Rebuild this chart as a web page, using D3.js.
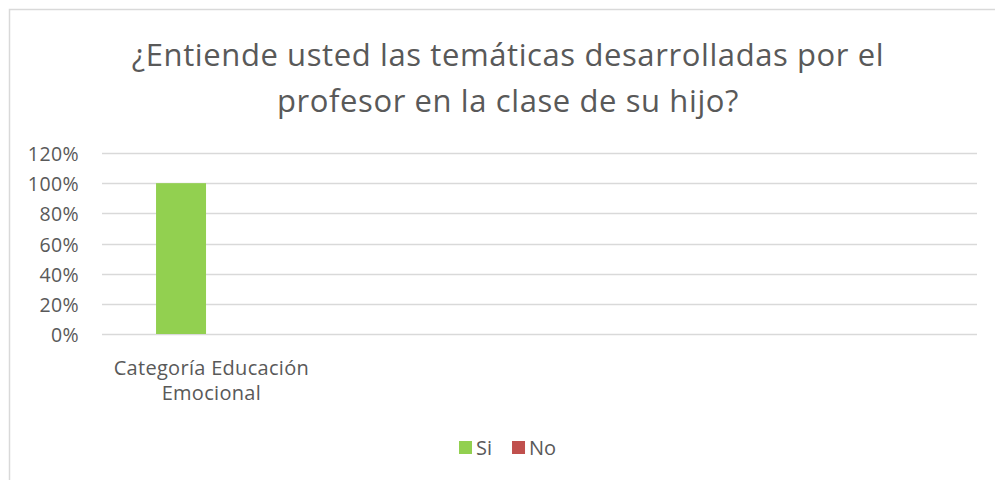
<!DOCTYPE html>
<html><head><meta charset="utf-8">
<script src="https://cdn.jsdelivr.net/npm/d3@7"></script>
<style>body{margin:0;background:#fff}svg{display:block}text{font-family:"Open Sans","Noto Sans",sans-serif;fill:#595959}</style>
</head><body><svg id="c" width="995" height="480"></svg>
<script>
const titleLines = ["¿Entiende usted las temáticas desarrolladas por el", "profesor en la clase de su hijo?"];
const categories = ["Categoría Educación Emocional", "", "", ""];
const categoryLines = [["Categoría Educación", "Emocional"], [], [], []];
const seriesNames = ["Si", "No"];
const siValues = [1.0, 0, 0, 0];
const noValues = [0, 0, 0, 0];
const yTicks = [0, 0.2, 0.4, 0.6, 0.8, 1.0, 1.2];
const colors = {Si: "#92d050", No: "#c0504d"};

const svg = d3.select("#c");
svg.append("rect").attr("x", 9.5).attr("y", 9.5).attr("width", 995).attr("height", 480)
  .attr("fill", "#fff").attr("stroke", "#d9d9d9").attr("stroke-width", 1.5);

const t = svg.append("text").attr("text-anchor", "middle").attr("font-size", 31).attr("letter-spacing", 0.6);
titleLines.forEach((l, i) => t.append("tspan").attr("x", 508).attr("y", 66 + i * 46).text(l));

const m = {left: 102, right: 977, top: 153, bottom: 334};
const x0 = d3.scaleBand().domain(d3.range(categories.length)).range([m.left, m.right]);
const barW = x0.bandwidth() / 4.375;
const x1 = d3.scaleBand().domain(seriesNames).range([0, barW * seriesNames.length]);
const y = d3.scaleLinear().domain([0, 1.2]).range([m.bottom, m.top]);

const grid = svg.append("g");
grid.selectAll("line").data(yTicks).join("line")
  .attr("x1", m.left).attr("x2", m.right)
  .attr("y1", d => Math.round(y(d)) + 0.5).attr("y2", d => Math.round(y(d)) + 0.5)
  .attr("stroke", "#d9d9d9").attr("stroke-width", 1.3);

const yAxis = d3.axisLeft(y).tickValues(yTicks).tickFormat(d3.format(".0%")).tickSize(0).tickPadding(0);
const ya = svg.append("g").attr("transform", `translate(79,0)`).call(yAxis);
ya.select(".domain").remove();
ya.selectAll("text").attr("font-size", 19.5).attr("letter-spacing", 0.4).attr("fill", "#595959")
  .attr("font-family", "'Open Sans',sans-serif").attr("dy", 7.5);

const data = [{name: "Si", values: siValues}, {name: "No", values: noValues}];
data.forEach(s => {
  svg.append("g").selectAll("rect").data(s.values).join("rect")
    .attr("x", (d, i) => x0(i) + x0.bandwidth() * 0.247 + x1(s.name))
    .attr("width", x1.bandwidth())
    .attr("y", d => y(d)).attr("height", d => y(0) - y(d))
    .attr("fill", colors[s.name]);
});

categoryLines.forEach((lines, i) => {
  const cx = x0(i) + x0.bandwidth() / 2;
  const tx = svg.append("text").attr("text-anchor", "middle").attr("font-size", 20).attr("letter-spacing", 0.3);
  lines.forEach((w, j) => tx.append("tspan").attr("x", cx).attr("y", 375 + j * 25).text(w));
});

const lg = svg.append("g");
let lx = 459;
seriesNames.forEach((n, i) => {
  lg.append("rect").attr("x", lx).attr("y", 441).attr("width", 13).attr("height", 13).attr("fill", colors[n]);
  const tt = lg.append("text").attr("x", lx + 17).attr("y", 455).attr("font-size", 20).text(n);
  lx += 17 + tt.node().getComputedTextLength() + 20;
});
</script></body></html>
